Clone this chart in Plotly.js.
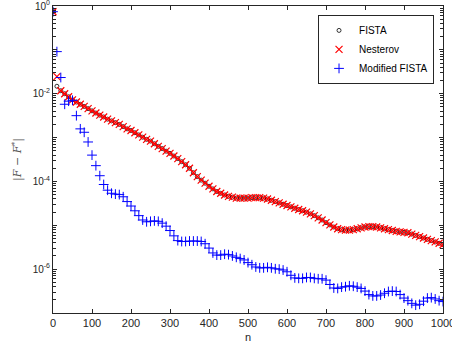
<!DOCTYPE html>
<html><head><meta charset="utf-8">
<script src="https://cdn.plot.ly/plotly-3.0.1.min.js"></script>
<style>html,body{margin:0;padding:0;background:#fff}#chart{width:452px;height:351px}</style>
</head><body><div id="chart"></div>
<script>
const iterations = [0,10,20,30,40,50,60,70,80,90,100,110,120,130,140,150,160,170,180,190,200,210,220,230,240,250,260,270,280,290,300,310,320,330,340,350,360,370,380,390,400,410,420,430,440,450,460,470,480,490,500,510,520,530,540,550,560,570,580,590,600,610,620,630,640,650,660,670,680,690,700,710,720,730,740,750,760,770,780,790,800,810,820,830,840,850,860,870,880,890,900,910,920,930,940,950,960,970,980,990,1000];

const nesterov = [0.741,2.45e-2,1.17e-2,1.00e-2,8.51e-3,7.24e-3,6.46e-3,5.75e-3,5.13e-3,4.57e-3,4.07e-3,3.63e-3,3.24e-3,2.95e-3,2.63e-3,2.40e-3,2.19e-3,2.00e-3,1.78e-3,1.58e-3,1.45e-3,1.29e-3,1.15e-3,1.02e-3,9.12e-4,8.32e-4,7.24e-4,6.31e-4,5.62e-4,4.90e-4,4.37e-4,3.80e-4,3.31e-4,2.82e-4,2.40e-4,2.00e-4,1.58e-4,1.29e-4,1.07e-4,9.12e-5,7.76e-5,6.76e-5,5.89e-5,5.37e-5,4.90e-5,4.57e-5,4.37e-5,4.17e-5,4.17e-5,4.17e-5,4.17e-5,4.27e-5,4.27e-5,4.27e-5,4.17e-5,3.98e-5,3.72e-5,3.47e-5,3.24e-5,3.02e-5,2.82e-5,2.63e-5,2.45e-5,2.29e-5,2.14e-5,2.00e-5,1.82e-5,1.66e-5,1.48e-5,1.32e-5,1.15e-5,1.02e-5,9.12e-6,8.32e-6,7.94e-6,7.76e-6,7.76e-6,7.94e-6,8.32e-6,8.71e-6,9.12e-6,9.33e-6,9.33e-6,9.12e-6,8.71e-6,8.32e-6,7.94e-6,7.59e-6,7.24e-6,7.08e-6,6.92e-6,6.76e-6,6.31e-6,5.89e-6,5.50e-6,5.13e-6,4.79e-6,4.47e-6,4.17e-6,3.89e-6,3.63e-6];

const fista = [0.741,1.48e-2,1.17e-2,1.00e-2,8.51e-3,7.24e-3,6.46e-3,5.75e-3,5.13e-3,4.57e-3,4.07e-3,3.63e-3,3.24e-3,2.95e-3,2.63e-3,2.40e-3,2.19e-3,2.00e-3,1.78e-3,1.58e-3,1.45e-3,1.29e-3,1.15e-3,1.02e-3,9.12e-4,8.32e-4,7.24e-4,6.31e-4,5.62e-4,4.90e-4,4.37e-4,3.80e-4,3.31e-4,2.82e-4,2.40e-4,2.00e-4,1.58e-4,1.29e-4,1.07e-4,9.12e-5,7.76e-5,6.76e-5,5.89e-5,5.37e-5,4.90e-5,4.57e-5,4.37e-5,4.17e-5,4.17e-5,4.17e-5,4.17e-5,4.27e-5,4.27e-5,4.27e-5,4.17e-5,3.98e-5,3.72e-5,3.47e-5,3.24e-5,3.02e-5,2.82e-5,2.63e-5,2.45e-5,2.29e-5,2.14e-5,2.00e-5,1.82e-5,1.66e-5,1.48e-5,1.32e-5,1.15e-5,1.02e-5,9.12e-6,8.32e-6,7.94e-6,7.76e-6,7.76e-6,7.94e-6,8.32e-6,8.71e-6,9.12e-6,9.33e-6,9.33e-6,9.12e-6,8.71e-6,8.32e-6,7.94e-6,7.59e-6,7.24e-6,7.08e-6,6.92e-6,6.76e-6,6.31e-6,5.89e-6,5.50e-6,5.13e-6,4.79e-6,4.47e-6,4.17e-6,3.89e-6,3.63e-6];

const modifiedFista = [0.741,9.12e-2,2.34e-2,5.75e-3,6.76e-3,7.08e-3,3.16e-3,1.58e-3,1.32e-3,7.94e-4,3.98e-4,2.29e-4,1.35e-4,8.51e-5,6.31e-5,5.37e-5,5.13e-5,5.01e-5,4.47e-5,3.47e-5,2.75e-5,2.14e-5,1.66e-5,1.32e-5,1.20e-5,1.23e-5,1.26e-5,1.23e-5,1.12e-5,9.55e-6,7.59e-6,5.75e-6,4.47e-6,4.27e-6,4.27e-6,4.37e-6,4.37e-6,4.37e-6,4.27e-6,3.80e-6,3.02e-6,2.34e-6,2.09e-6,2.09e-6,2.19e-6,2.14e-6,2.00e-6,1.86e-6,1.74e-6,1.62e-6,1.41e-6,1.26e-6,1.12e-6,1.07e-6,1.07e-6,1.10e-6,1.07e-6,1.02e-6,1.00e-6,9.55e-7,8.71e-7,7.24e-7,6.31e-7,6.17e-7,6.17e-7,6.46e-7,6.46e-7,6.17e-7,6.03e-7,6.03e-7,5.62e-7,4.47e-7,3.72e-7,3.63e-7,3.89e-7,3.98e-7,4.17e-7,4.07e-7,3.89e-7,3.63e-7,3.16e-7,2.63e-7,2.45e-7,2.45e-7,2.57e-7,2.82e-7,3.09e-7,3.16e-7,3.09e-7,2.63e-7,2.19e-7,1.91e-7,1.66e-7,1.51e-7,1.58e-7,1.86e-7,2.19e-7,2.24e-7,2.09e-7,1.91e-7,1.82e-7];

const seriesNames = ['FISTA','Nesterov','Modified FISTA'];
const xTickVals = [0,100,200,300,400,500,600,700,800,900,1000];
const yTickVals = [1e-7,1e-6,1e-5,1e-4,1e-3,1e-2,1e-1,1];
const yTickText = ['','10<sup>-6</sup>','','10<sup>-4</sup>','','10<sup>-2</sup>','','10<sup>0</sup>'];
const yMinorVals = [];
[1e-7,1e-6,1e-5,1e-4,1e-3,1e-2,1e-1].forEach(function (d) {
  [2,3,4,5,6,7,8,9].forEach(function (m) { yMinorVals.push(d * m); });
});

const axisColor = '#262626';
const traces = [
  {x: iterations, y: fista, name: seriesNames[0], mode: 'markers', type: 'scatter',
   marker: {symbol: 'circle-open', size: 4, color: '#000000', line: {width: 0.8, color: '#000000'}}},
  {x: iterations, y: nesterov, name: seriesNames[1], mode: 'markers', type: 'scatter',
   marker: {symbol: 'x-thin-open', size: 7, color: '#ff0000', line: {width: 1.2, color: '#ff0000'}}},
  {x: iterations, y: modifiedFista, name: seriesNames[2], mode: 'markers', type: 'scatter',
   marker: {symbol: 'cross-thin-open', size: 7, color: '#0000ff', line: {width: 1, color: '#0000ff'}}}
];

const layout = {
  width: 452, height: 351,
  margin: {l: 53, r: 9, t: 6, b: 38},
  paper_bgcolor: '#ffffff', plot_bgcolor: '#ffffff',
  font: {family: 'Liberation Sans, Arial, sans-serif', size: 10, color: axisColor},
  showlegend: true,
  legend: {x: 0.977, y: 0.971, xanchor: 'right', yanchor: 'top', bgcolor: '#ffffff',
    bordercolor: '#262626', borderwidth: 1, font: {size: 10, color: '#000000'},
    tracegroupgap: 0, itemwidth: 30, itemsizing: 'trace'},
  xaxis: {range: [0, 1000], tickvals: xTickVals, ticks: 'inside', ticklen: 4, tickcolor: axisColor,
    showline: true, linecolor: axisColor, linewidth: 1, mirror: 'ticks', showgrid: false, zeroline: false,
    ticklabeloverflow: 'allow', tickfont: {size: 11, color: axisColor},
    title: {text: 'n', font: {size: 11, color: axisColor}, standoff: 5}},
  yaxis: {type: 'log', range: [-7, 0], tickvals: yTickVals, ticktext: yTickText, ticks: 'inside', ticklen: 4,
    tickcolor: axisColor, showline: true, linecolor: axisColor, linewidth: 1, mirror: 'ticks',
    showgrid: false, zeroline: false, ticklabeloverflow: 'allow', tickfont: {size: 10, color: axisColor},
    title: {text: '|<i>F</i> − <i>F</i><sup>*</sup>|', font: {family: 'DejaVu Serif, serif', size: 11, color: '#555555'}, standoff: 8}},
  yaxis2: {type: 'log', range: [-7, 0], overlaying: 'y', side: 'left', tickmode: 'array', tickvals: yMinorVals,
    showticklabels: false, ticks: 'inside', ticklen: 3, tickcolor: axisColor, showline: true,
    linecolor: axisColor, linewidth: 1, mirror: 'ticks', showgrid: false, zeroline: false}
};

// invisible helper trace so the minor-tick axis is drawn
traces.push({x: [iterations[0]], y: [nesterov[0]], yaxis: 'y2', mode: 'markers', type: 'scatter',
  showlegend: false, hoverinfo: 'skip', marker: {opacity: 0}});

Plotly.newPlot('chart', traces, layout, {staticPlot: true, displayModeBar: false});
</script>
</body></html>
